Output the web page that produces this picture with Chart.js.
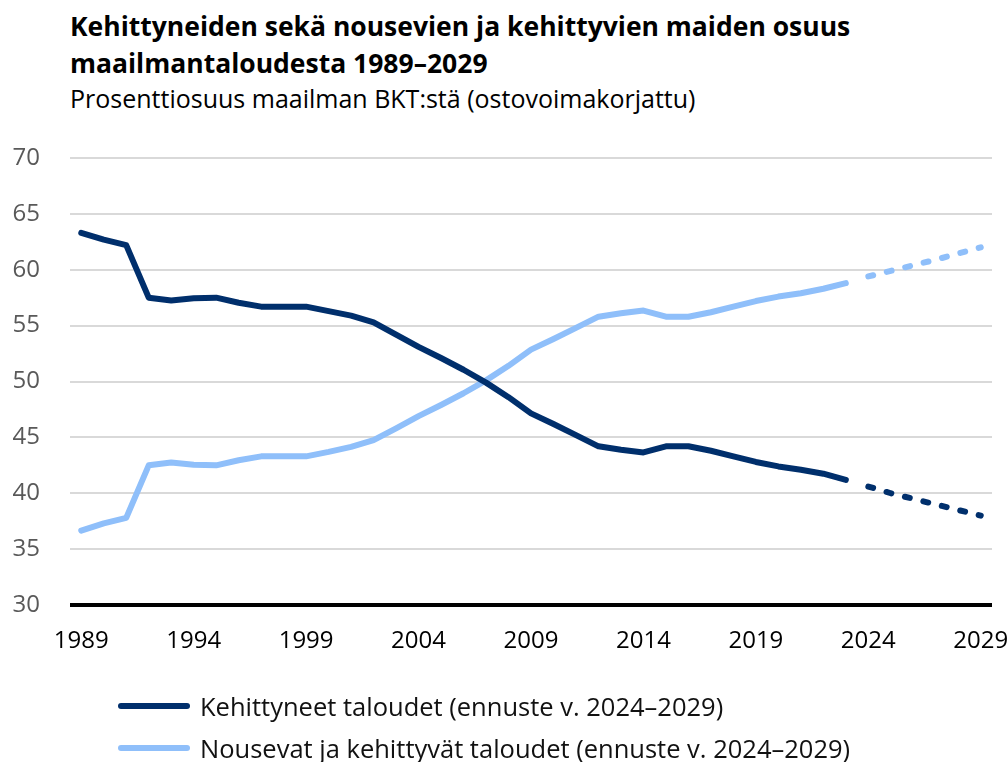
<!DOCTYPE html>
<html>
<head>
<meta charset="utf-8">
<script src="https://cdn.jsdelivr.net/npm/chart.js@4.4.1/dist/chart.umd.min.js"></script>
<style>
    body { margin: 0; background: #fff; font-family: 'Open Sans', sans-serif; }
    #wrap { position: relative; width: 1008px; height: 762px; overflow: hidden; }
    #chart { position: absolute; left: 0; top: 0; }
    .title { position: absolute; left: 70px; top: 8px; font-weight: bold; font-size: 26.5px; line-height: 37px; color: #000; white-space: nowrap; }
    .subtitle { position: absolute; left: 70px; top: 83px; font-size: 25px; line-height: 30px; color: #000; white-space: nowrap; }
    #legend { position: absolute; left: 118px; top: 685px; }
    .item { display: flex; align-items: center; height: 42px; font-size: 25.5px; color: #111; white-space: nowrap; }
    .swatch { width: 72px; height: 6px; border-radius: 3px; margin-right: 10px; }
</style>
</head>
<body>
<div id="wrap">
    <div class="title">Kehittyneiden sekä nousevien ja kehittyvien maiden osuus<br>maailmantaloudesta 1989–2029</div>
    <div class="subtitle">Prosenttiosuus maailman BKT:stä (ostovoimakorjattu)</div>
    <canvas id="chart" width="1008" height="762"></canvas>
    <div id="legend"></div>
</div>
<script>
const years = [
    '1989', '1990', '1991', '1992', '1993', '1994', '1995', '1996', '1997', '1998',
    '1999', '2000', '2001', '2002', '2003', '2004', '2005', '2006', '2007', '2008',
    '2009', '2010', '2011', '2012', '2013', '2014', '2015', '2016', '2017', '2018',
    '2019', '2020', '2021', '2022', '2023', '2024', '2025', '2026', '2027', '2028', '2029'
];
const shownYears = ['1989', '1994', '1999', '2004', '2009', '2014', '2019', '2024', '2029'];

// 1989-2023
const advancedActual = [
    63.3, 62.7, 62.2, 57.5, 57.25, 57.45, 57.5, 57.05, 56.7, 56.7,
    56.7, 56.3, 55.9, 55.3, 54.2, 53.1, 52.1, 51.05, 49.9, 48.6,
    47.15, 46.2, 45.2, 44.2, 43.9, 43.65, 44.2, 44.2, 43.8, 43.3,
    42.8, 42.4, 42.1, 41.75, 41.2
];
const emergingActual = [
    36.65, 37.3, 37.8, 42.5, 42.75, 42.55, 42.5, 42.95, 43.3, 43.3,
    43.3, 43.7, 44.15, 44.75, 45.8, 46.9, 47.9, 48.95, 50.1, 51.4,
    52.85, 53.8, 54.8, 55.8, 56.1, 56.35, 55.8, 55.8, 56.2, 56.7,
    57.2, 57.6, 57.9, 58.3, 58.8
];
// 2024-2029 ennuste
const advancedForecast = [40.6, 40.0, 39.5, 39.0, 38.5, 38.0];
const emergingForecast = [59.4, 59.9, 60.4, 60.9, 61.45, 62.0];

const seriesNames = [
    'Kehittyneet taloudet (ennuste v. 2024–2029)',
    'Nousevat ja kehittyvät taloudet (ennuste v. 2024–2029)'
];
const seriesColors = ['#002f6c', '#8fbffa'];

const gap = advancedActual.map(() => null);

function lineSet(label, data, color, dashed) {
    return {
        label: label,
        data: data,
        borderColor: color,
        backgroundColor: color,
        borderWidth: 6,
        borderDash: dashed ? [5, 14] : [],
        borderCapStyle: 'round',
        borderJoinStyle: 'round',
        pointRadius: 0,
        tension: 0,
        spanGaps: false
    };
}

const chart = new Chart(document.getElementById('chart'), {
    type: 'line',
    data: {
        labels: years,
        datasets: [
            lineSet(seriesNames[0], advancedActual, seriesColors[0], false),
            lineSet(seriesNames[1], emergingActual, seriesColors[1], false),
            lineSet('', gap.concat(advancedForecast), seriesColors[0], true),
            lineSet('', gap.concat(emergingForecast), seriesColors[1], true)
        ]
    },
    options: {
        responsive: false,
        animation: false,
        layout: { padding: { left: 12, right: 16, top: 158, bottom: 107 } },
        plugins: {
            legend: { display: false },
            tooltip: { enabled: false }
        },
        scales: {
            x: {
                offset: true,
                grid: { display: false, drawTicks: false },
                border: { display: false },
                ticks: {
                    autoSkip: false,
                    maxRotation: 0,
                    padding: 22,
                    color: '#000',
                    font: { family: 'Open Sans', size: 24 },
                    callback: function (value) {
                        const y = this.getLabelForValue(value);
                        return shownYears.includes(y) ? y : '';
                    }
                },
                afterFit: function (scale) {
                    scale.height = 50;
                    scale.paddingLeft = 0;
                    scale.paddingRight = 0;
                }
            },
            y: {
                min: 30,
                max: 70,
                border: { display: false },
                grid: {
                    drawTicks: false,
                    color: ctx => ctx.tick.value === 30 ? '#000' : '#d9d9d9',
                    lineWidth: ctx => ctx.tick.value === 30 ? 4 : 2
                },
                ticks: {
                    stepSize: 5,
                    padding: 30,
                    color: '#595959',
                    font: { family: 'Open Sans', size: 24 }
                },
                afterFit: function (scale) { scale.width = 58; }
            }
        }
    }
});

const legend = document.getElementById('legend');
seriesNames.forEach((name, i) => {
    const row = document.createElement('div');
    row.className = 'item';
    row.innerHTML = '<span class="swatch" style="background:' + seriesColors[i] + '"></span>' + name;
    legend.appendChild(row);
});
</script>
</body>
</html>
